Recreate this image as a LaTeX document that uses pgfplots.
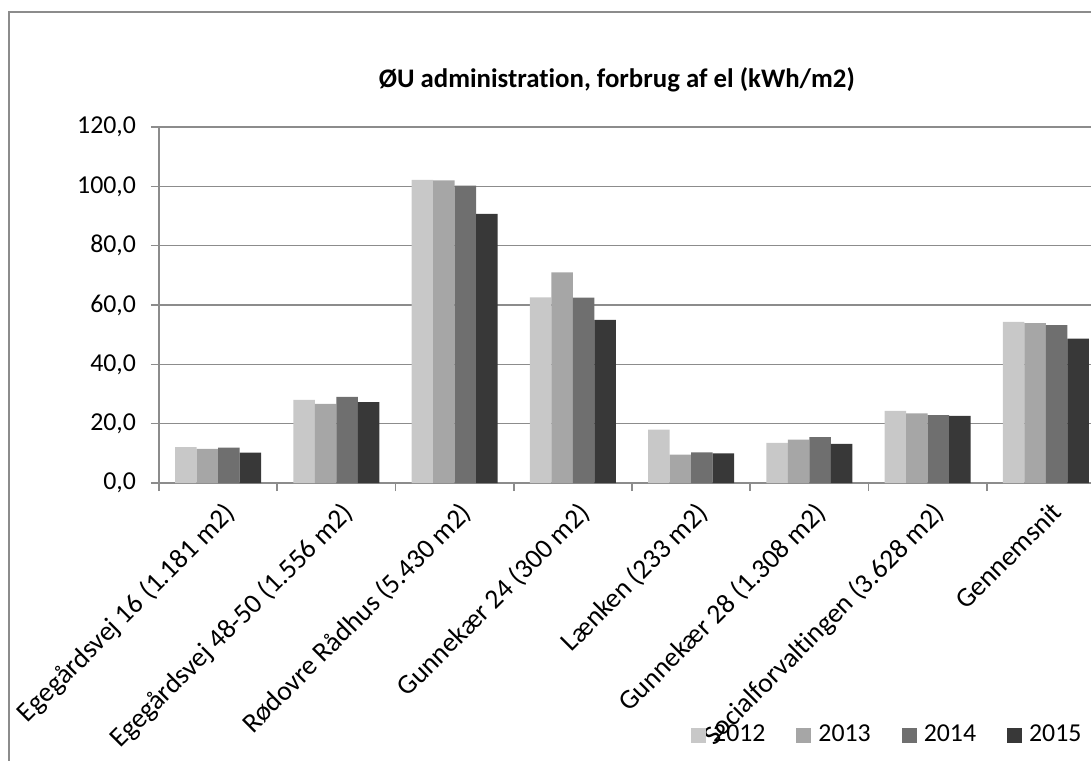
\documentclass[border=0pt]{standalone}
\usepackage{fontspec}
\setmainfont{Carlito}[Ligatures=CommonOff]
\usepackage{pgfplots}
\pgfplotsset{compat=1.18}
\definecolor{c2012}{HTML}{C8C8C8}
\definecolor{c2013}{HTML}{A6A6A6}
\definecolor{c2014}{HTML}{6F6F6F}
\definecolor{c2015}{HTML}{383838}
\definecolor{gridc}{HTML}{8C8C8C}
\newcommand{\lblfont}{\fontsize{12.9}{15}\selectfont}
\begin{document}
\begin{tikzpicture}
% picture is clipped on the right and bottom like the reference
\useasboundingbox (-79.5pt,-138.5pt) rectangle (466pt,241.5pt);
\clip (-79.5pt,-138.5pt) rectangle (466pt,241.5pt);
\draw[gridc, line width=0.75pt] (-75pt,-150pt) -- (-75pt,235.5pt) -- (480pt,235.5pt);
\begin{axis}[
  at={(0pt,0pt)}, anchor=south west,
  scale only axis, width=473pt, height=178pt,
  ybar=0pt, bar width=10.75pt,
  xmin=-0.5, xmax=7.5, ymin=0, ymax=120,
  ytick={0,20,...,120},
  ymajorgrids,
  grid style={gridc, line width=0.8pt},
  axis line style={gridc, line width=0.8pt},
  tick style={gridc, line width=0.8pt},
  tick align=outside, major tick length=4pt, tick pos=left,
  xtick={-0.5,0.5,...,7.5}, xticklabels={},
  extra x ticks={0,...,7},
  extra x tick labels={Egegårdsvej 16 (1.181 m2), Egegårdsvej 48-50 (1.556 m2), Rødovre Rådhus (5.430 m2), Gunnekær 24 (300 m2), Lænken (233 m2), Gunnekær 28 (1.308 m2), Socialforvaltingen (3.628 m2), Gennemsnit},
  extra x tick style={major tick length=0pt, grid=none},
  x tick label style={xshift=2pt, yshift=-7pt, rotate=45, anchor=north east, font=\fontsize{13.8}{16}\selectfont, inner sep=1pt},
  y tick label style={font=\lblfont, xshift=-4pt},
  yticklabel style={/pgf/number format/.cd, fixed, fixed zerofill, precision=1, use comma, assume math mode=true},
  title={ØU administration, forbrug af el (kWh/m2)},
  title style={at={(0.484,1.10)}, anchor=center, font=\fontsize{13.4}{16}\selectfont\bfseries},
  legend columns=4,
  legend style={draw=none, fill=none, at={(0.985,-0.708)}, anchor=east, font=\lblfont,
    nodes={inner sep=1.5pt},
    /tikz/every odd column/.append style={column sep=2pt},
    /tikz/every even column/.append style={column sep=14pt}},
  legend image code/.code={\fill[#1] (0pt,-3.75pt) rectangle (7.5pt,3.75pt);},
]
\addplot[fill=c2012, draw=none] coordinates {(0,12.1) (1,28.0) (2,102.2) (3,62.6) (4,18.0) (5,13.5) (6,24.3) (7,54.3)};
\addplot[fill=c2013, draw=none] coordinates {(0,11.5) (1,26.7) (2,102.0) (3,71.0) (4,9.6) (5,14.6) (6,23.5) (7,53.9)};
\addplot[fill=c2014, draw=none] coordinates {(0,11.9) (1,29.0) (2,100.2) (3,62.5) (4,10.3) (5,15.5) (6,22.9) (7,53.2)};
\addplot[fill=c2015, draw=none] coordinates {(0,10.2) (1,27.3) (2,90.7) (3,55.0) (4,10.0) (5,13.2) (6,22.6) (7,48.7)};
\legend{2012,2013,2014,2015}
\end{axis}
\end{tikzpicture}
\end{document}
